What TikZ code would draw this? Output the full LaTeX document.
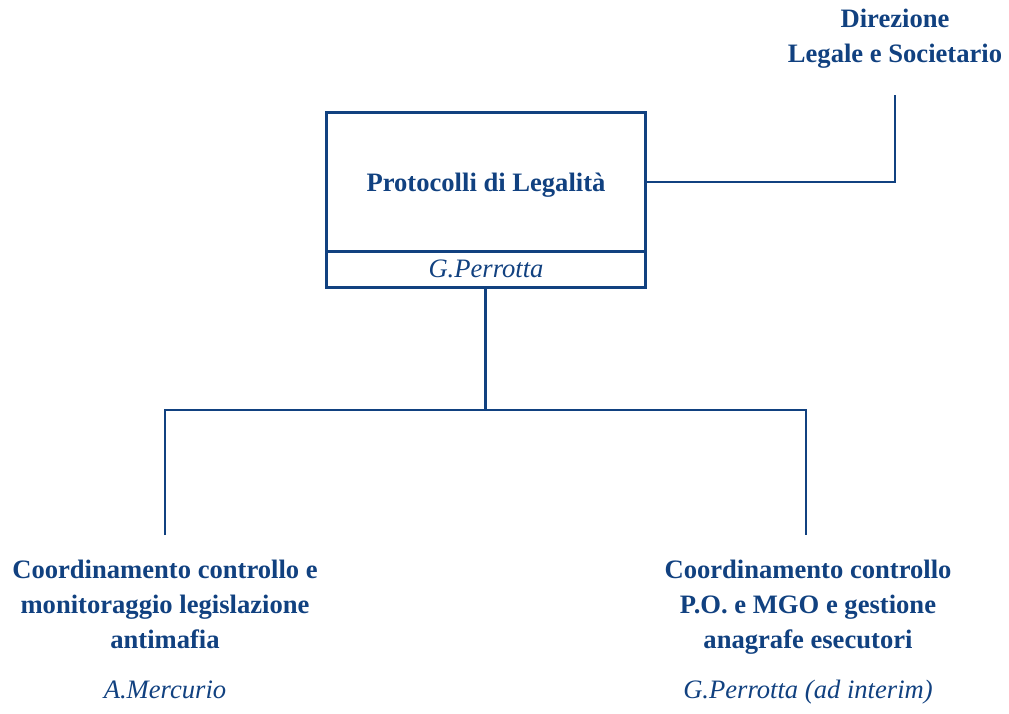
\documentclass[tikz,border=0pt]{standalone}
\usepackage{fontspec}
\setmainfont{Liberation Serif}
\definecolor{navy}{RGB}{17,65,128}
\begin{document}
\begin{tikzpicture}[x=1pt,y=-1pt,
  bigtxt/.style={text=navy,font=\fontsize{26.6}{35}\selectfont\bfseries,align=center,inner sep=0pt},
  nametxt/.style={text=navy,font=\fontsize{26.6}{35}\selectfont\itshape,align=center,inner sep=0pt},
  boxpart/.style={draw=navy,line width=3pt,minimum width=319pt,inner sep=0pt},
  conn/.style={draw=navy,line width=2.2pt}]
\useasboundingbox (0,0) rectangle (1009,714);
\node[boxpart,minimum height=138pt] (pl) at (485.5,182) {};
\node[boxpart,minimum height=36pt] (plname) at (485.5,269) {};
\node[bigtxt,anchor=base] (pltitle) at (486,192) {Protocolli di Legalità};
\node[nametxt,anchor=base] (plperson) at (486,277) {G.Perrotta};
\node[bigtxt,anchor=base] (dir) at (895,63) {Direzione\\Legale e Societario};
\node[bigtxt,anchor=base] (left) at (165,648) {Coordinamento controllo e\\monitoraggio legislazione\\antimafia};
\node[nametxt,anchor=base] (leftname) at (165,698) {A.Mercurio};
\node[bigtxt,anchor=base] (right) at (808,648) {Coordinamento controllo\\P.O. e MGO e gestione\\anagrafe esecutori};
\node[nametxt,anchor=base] (rightname) at (808,698) {G.Perrotta (ad interim)};
\coordinate (dirend) at (895,95);
\coordinate (hub) at (485.5,410);
\coordinate (lend) at (165,535);
\coordinate (rend) at (806,535);
\draw[conn] (pl.east) -| (dirend);
\draw[conn] (plname.south) -- (hub);
\draw[conn] (lend) -- (lend |- hub) -- (rend |- hub) -- (rend);
\end{tikzpicture}
\end{document}
